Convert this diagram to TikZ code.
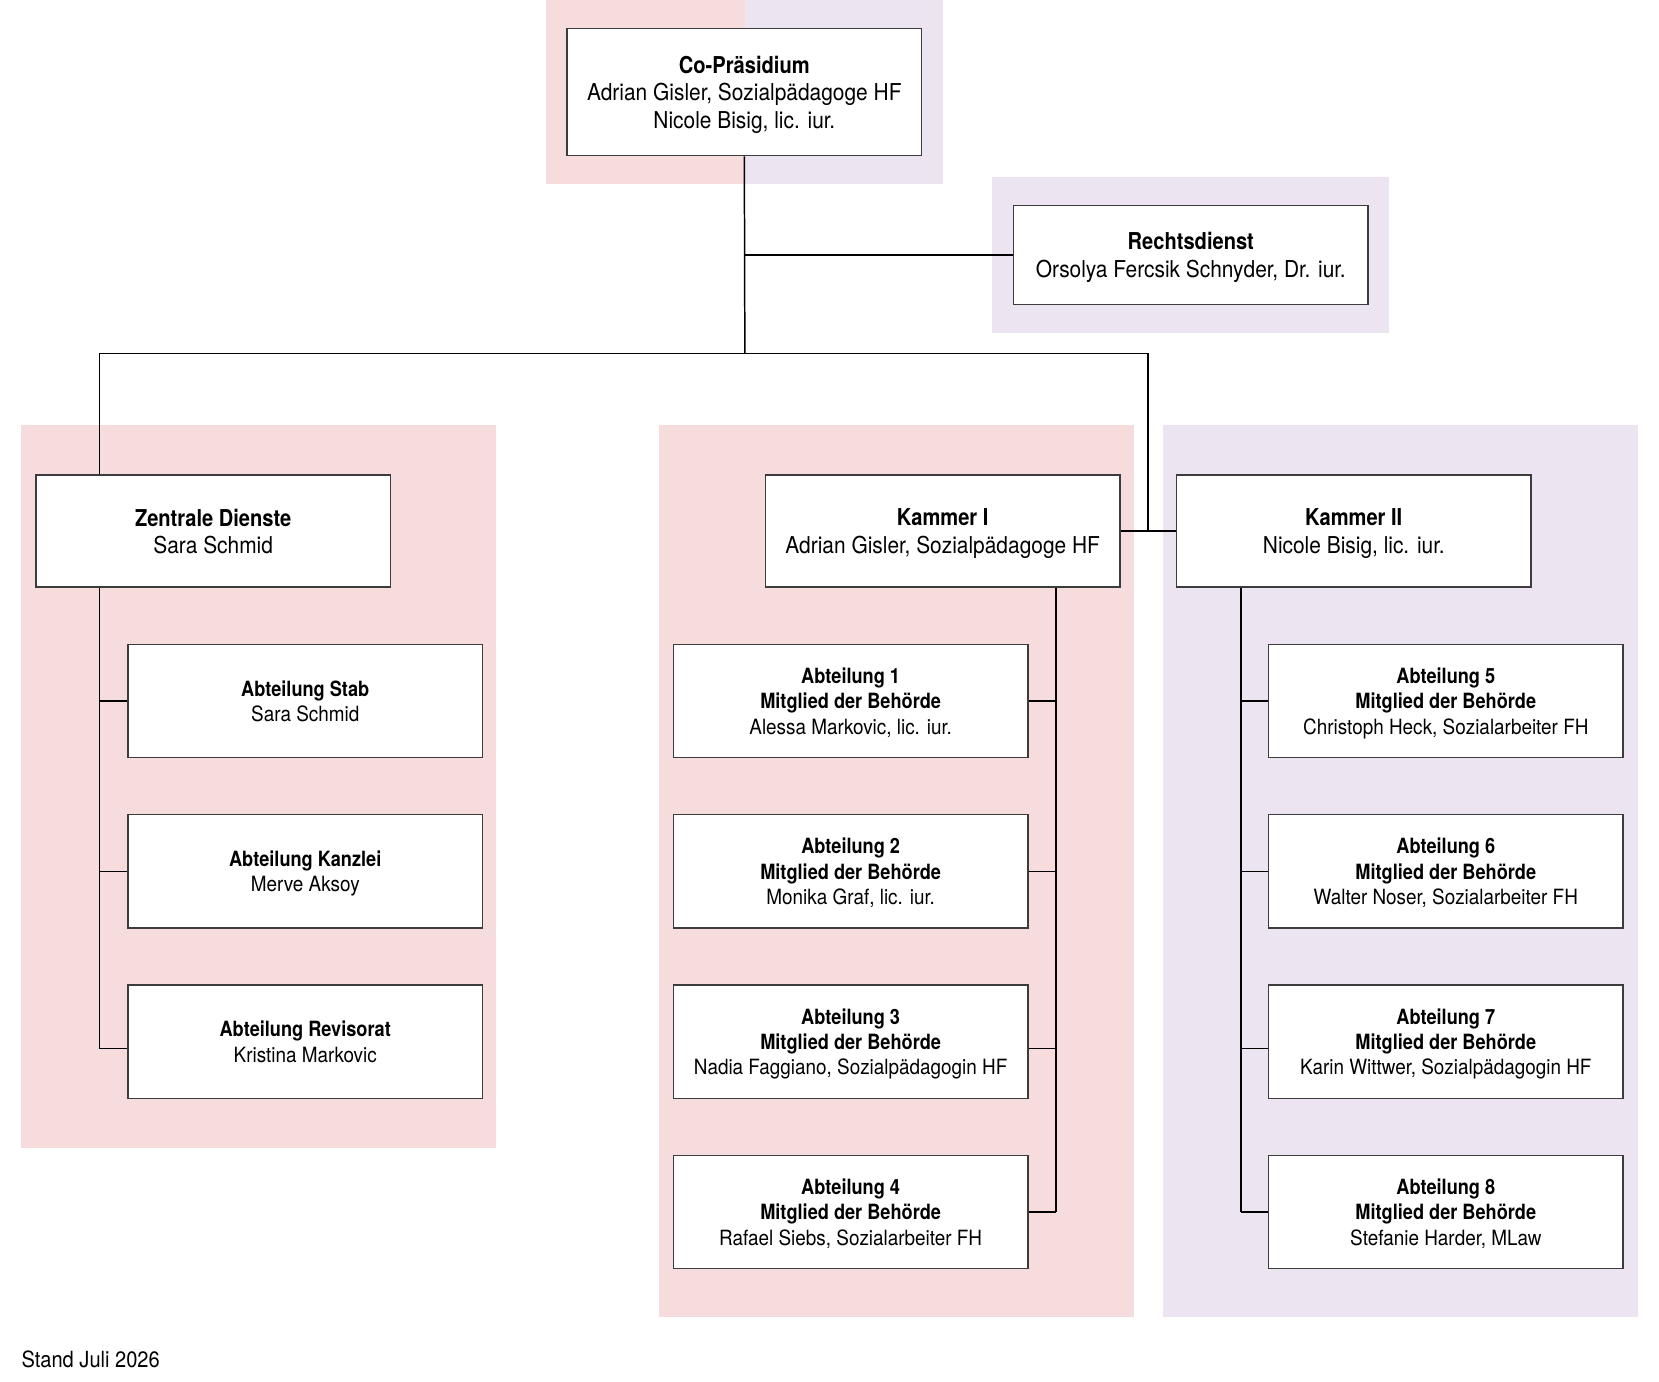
\documentclass[tikz,border=0pt]{standalone}
\usepackage{fontspec}
\setmainfont{TeX Gyre Heros}[UprightFeatures={FakeStretch=0.9}, BoldFeatures={FakeStretch=0.865}]
\usepackage{tikz}
\usetikzlibrary{calc}
\definecolor{rosa}{RGB}{247,220,221}
\definecolor{lila}{RGB}{236,228,240}
\definecolor{rahmen}{RGB}{60,60,60}
\tikzset{
  orgbox/.style={draw=rahmen, line width=0.8pt, fill=white, align=center,
    minimum width=6.7cm, minimum height=2.12cm, inner sep=0pt, text depth=0pt,
    font=\fontsize{12.5}{14.8}\selectfont},
  abtbox/.style={orgbox, minimum height=2.14cm,
    font=\fontsize{11.3}{13.6}\selectfont},
  linie/.style={line width=0.8pt, black},
}

\begin{document}
\begin{tikzpicture}[x=0.02cm, y=-0.02cm]
			%%%%% START %%%%%
			\useasboundingbox (0, 0) rectangle (1568, 1306);
			
			\fill[rosa] (516, 0) rectangle (704, 174);
			\fill[lila] (704, 0) rectangle (891, 174);
			\fill[lila] (938, 167) rectangle (1313, 315);
			\fill[rosa] (20, 402) rectangle (469, 1085);
			\fill[rosa] (623, 402) rectangle (1072, 1245);
			\fill[lila] (1099, 402) rectangle (1548, 1245);
			
			\node[orgbox, minimum height=2.4cm] (praes) at (703.5, 87) {\textbf{Co-Präsidium}\\Adrian Gisler, Sozialpädagoge HF\\Nicole Bisig, lic. iur.};
			\node[orgbox, minimum height=1.88cm] (recht) at (1125.5, 241) {\textbf{Rechtsdienst}\\Orsolya Fercsik Schnyder, Dr. iur.};
			
			\node[orgbox] (zentral) at (201.5, 502) {\textbf{Zentrale Dienste}\\Sara Schmid};
			\node[orgbox] (kammerI) at (891, 502) {\textbf{Kammer I}\\Adrian Gisler, Sozialpädagoge HF};
			\node[orgbox] (kammerII) at (1279.5, 502) {\textbf{Kammer II}\\Nicole Bisig, lic. iur.};
			
			\node[abtbox] (stab) at (288.5, 662.5) {\textbf{Abteilung Stab}\\Sara Schmid};
			\node[abtbox] (kanzlei) at (288.5, 823.5) {\textbf{Abteilung Kanzlei}\\Merve Aksoy};
			\node[abtbox] (revisorat) at (288.5, 984.5) {\textbf{Abteilung Revisorat}\\Kristina Markovic};
			
			\node[abtbox] (abt1) at (804, 662.5) {\textbf{Abteilung 1}\\\textbf{Mitglied der Behörde}\\Alessa Markovic, lic. iur.};
			\node[abtbox] (abt2) at (804, 823.5) {\textbf{Abteilung 2}\\\textbf{Mitglied der Behörde}\\Monika Graf, lic. iur.};
			\node[abtbox] (abt3) at (804, 984.5) {\textbf{Abteilung 3}\\\textbf{Mitglied der Behörde}\\Nadia Faggiano, Sozialpädagogin HF};
			\node[abtbox] (abt4) at (804, 1145.5) {\textbf{Abteilung 4}\\\textbf{Mitglied der Behörde}\\Rafael Siebs, Sozialarbeiter FH};
			
			\node[abtbox] (abt5) at (1366.5, 662.5) {\textbf{Abteilung 5}\\\textbf{Mitglied der Behörde}\\Christoph Heck, Sozialarbeiter FH};
			\node[abtbox] (abt6) at (1366.5, 823.5) {\textbf{Abteilung 6}\\\textbf{Mitglied der Behörde}\\Walter Noser, Sozialarbeiter FH};
			\node[abtbox] (abt7) at (1366.5, 984.5) {\textbf{Abteilung 7}\\\textbf{Mitglied der Behörde}\\Karin Wittwer, Sozialpädagogin HF};
			\node[abtbox] (abt8) at (1366.5, 1145.5) {\textbf{Abteilung 8}\\\textbf{Mitglied der Behörde}\\Stefanie Harder, MLaw};
			
			\coordinate (bus) at (704, 334);
			\coordinate (zd) at (94, 334);
			\coordinate (kk) at (1085, 334);
			\coordinate (k1) at (998, 0);
			\coordinate (k2) at (1173, 0);
			
			\draw[linie] (praes.south) -- (bus);
			\draw[linie] (praes.south |- recht.west) -- (recht.west);
			\draw[linie] (zd) -- (kk);
			\draw[linie] (zd) -- (zd |- zentral.north);
			\draw[linie] (kk) -- (kk |- kammerI.east);
			\draw[linie] (kammerI.east) -- (kammerII.west);
			
			\draw[linie] (zd |- zentral.south) -- ($(zd |- revisorat.west)+(0, 6.5)$);
			\draw[linie] (zd |- stab.west) -- (stab.west);
			\draw[linie] (zd |- kanzlei.west) -- (kanzlei.west);
			\draw[linie] ($(zd |- revisorat.west)+(0, 6.5)$) -- ($(revisorat.west)+(0, 6.5)$);
			
			\draw[linie] (k1 |- kammerI.south) -- (k1 |- abt4.east);
			\draw[linie] (k1 |- abt1.east) -- (abt1.east);
			\draw[linie] (k1 |- abt2.east) -- (abt2.east);
			\draw[linie] ($(k1 |- abt3.east)+(0, 6.5)$) -- ($(abt3.east)+(0, 6.5)$);
			\draw[linie] (k1 |- abt4.east) -- (abt4.east);
			
			\draw[linie] (k2 |- kammerII.south) -- (k2 |- abt8.west);
			\draw[linie] (k2 |- abt5.west) -- (abt5.west);
			\draw[linie] (k2 |- abt6.west) -- (abt6.west);
			\draw[linie] ($(k2 |- abt7.west)+(0, 6.5)$) -- ($(abt7.west)+(0, 6.5)$);
			\draw[linie] (k2 |- abt8.west) -- (abt8.west);
			
			\node[anchor=base west, inner sep=0pt, font=\fontsize{12}{14.4}\selectfont] (stand) at (20, 1292) {Stand Juli 2026};
			%%%%% END %%%%%
\end{tikzpicture}
\end{document}
